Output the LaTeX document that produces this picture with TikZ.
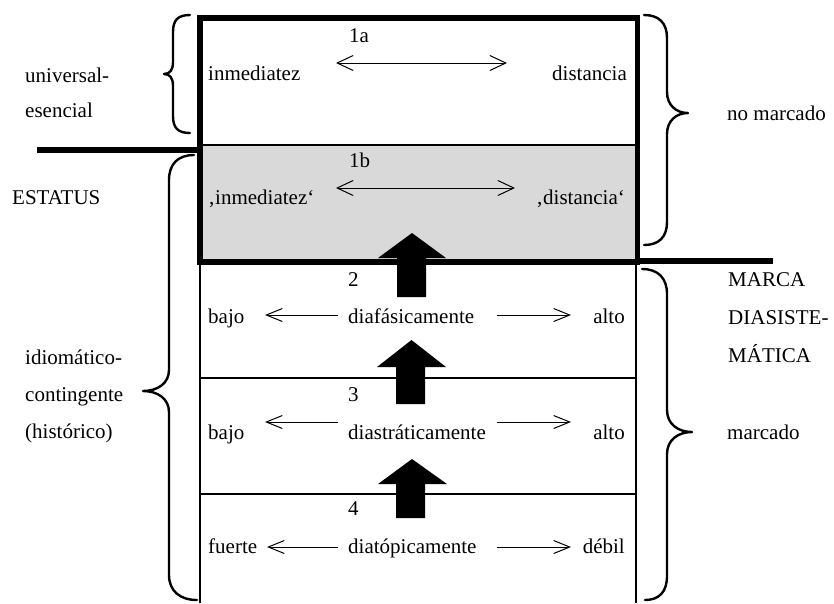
\documentclass[tikz,border=0pt]{standalone}
\usepackage{fontspec}
\setmainfont{Liberation Serif}
\usetikzlibrary{arrows.meta}
\begin{document}
\begin{tikzpicture}[x=1pt,y=-1pt,
  txt/.style={inner sep=0pt, font=\fontsize{21}{25}\selectfont},
  lt/.style={txt, anchor=base west},
  rt/.style={txt, anchor=base east},
  thinarrow/.style={line width=1pt, -{Straight Barb[length=16pt,width=13pt]}},
  botharrow/.style={line width=1pt, {Straight Barb[length=16pt,width=15pt]}-{Straight Barb[length=16pt,width=15pt]}},
  bracestyle/.style={line width=2.4pt, line cap=round, line join=round},
  boldline/.style={line width=6.5pt},
  framebox/.style={line width=5.5pt},
  rowline/.style={line width=1.3pt},
  blockarrow/.style={fill=black, draw=none}
]
\useasboundingbox (0,0) rectangle (834,603);

% gray area
\fill[gray!30] (200,145) rectangle (637.5,262);

% thin lower frame
\draw[rowline] (200,262) -- (200,603);
\draw[rowline] (636,262) -- (636,603);
\draw[rowline] (200,378) -- (636,378);
\draw[rowline] (200,494) -- (636,494);
\draw[line width=1.5pt] (200,145) -- (637.5,145);

% thick frame
\draw[framebox] (200,18) rectangle (637.5,262);

% thick separator lines
\draw[boldline] (37,150) -- (200,150);
\draw[boldline] (640,261) -- (773,261);

% braces
\draw[bracestyle] (190,15) .. controls (178,15) and (173,20) .. (173,32) -- (173,62)
  .. controls (173,70) and (170,74) .. (164,74) .. controls (170,74) and (173,78) .. (173,86)
  -- (173,116) .. controls (173,128) and (178,133) .. (190,133);
\draw[bracestyle] (194,155) .. controls (178,155) and (169,164) .. (169,180) -- (169,370)
  .. controls (169,383) and (158,391) .. (143,391) .. controls (158,391) and (169,399) .. (169,412)
  -- (169,575) .. controls (169,591) and (180,600) .. (197,600);
\draw[bracestyle] (644,15) .. controls (659,15) and (667,23) .. (667,38) -- (667,92)
  .. controls (667,105) and (676,113) .. (688,113) .. controls (676,113) and (667,121) .. (667,134)
  -- (667,222) .. controls (667,237) and (659,245) .. (644,245);
\draw[bracestyle] (642,269) .. controls (658,269) and (667,278) .. (667,294) -- (667,410)
  .. controls (667,424) and (678,432) .. (692,432) .. controls (678,432) and (667,440) .. (667,454)
  -- (667,576) .. controls (667,592) and (659,600) .. (645,600);

% left labels
\node[lt] (univ) at (25,82) {universal-};
\node[lt] (esen) at (25,117) {esencial};
\node[lt] (estatus) at (12,204) {ESTATUS};
\node[lt] (idio) at (25,364) {idiomático-};
\node[lt] (cont) at (25,401) {contingente};
\node[lt] (hist) at (25,438) {(histórico)};

% right labels
\node[lt] (nomarc) at (727,120) {no marcado};
\node[lt] (marca) at (728,286) {MARCA};
\node[lt] (diasis) at (728,324) {DIASISTE-};
\node[lt] (matica) at (728,362) {MÁTICA};
\node[lt] (marcado) at (727,439) {marcado};

% row 1a
\node[lt] (n1a) at (349,42) {1a};
\node[lt] (inm) at (208,80) {inmediatez};
\node[rt] (dist) at (627,80) {distancia};
\coordinate (a1l) at (336,63);
\coordinate (a1r) at (507,63);
\draw[botharrow] (a1l) -- (a1r);

% row 1b
\node[lt] (n1b) at (349,167) {1b};
\node[lt] (inmq) at (208,204) {‚inmediatez‘};
\node[rt] (distq) at (625,204) {‚distancia‘};
\coordinate (b1l) at (336,188);
\coordinate (b1r) at (515,188);
\draw[botharrow] (b1l) -- (b1r);

% row 2
\node[lt] (n2) at (348,286) {2};
\node[lt] (bajo2) at (208,323) {bajo};
\node[lt] (diaf) at (348,323) {diafásicamente};
\node[rt] (alto2) at (625,323) {alto};
\coordinate (r2a) at (338,315);
\coordinate (r2b) at (265,315);
\coordinate (r2c) at (497,315);
\coordinate (r2d) at (571,315);
\draw[thinarrow] (r2a) -- (r2b);
\draw[thinarrow] (r2c) -- (r2d);

% row 3
\node[lt] (n3) at (348,401) {3};
\node[lt] (bajo3) at (208,439) {bajo};
\node[lt] (dias) at (348,439) {diastráticamente};
\node[rt] (alto3) at (625,439) {alto};
\coordinate (r3a) at (338,422);
\coordinate (r3b) at (265,422);
\coordinate (r3c) at (497,422);
\coordinate (r3d) at (571,422);
\draw[thinarrow] (r3a) -- (r3b);
\draw[thinarrow] (r3c) -- (r3d);

% row 4
\node[lt] (n4) at (348,515) {4};
\node[lt] (fuerte) at (208,553) {fuerte};
\node[lt] (diat) at (348,553) {diatópicamente};
\node[rt] (debil) at (625,553) {débil};
\coordinate (r4a) at (338,547);
\coordinate (r4b) at (267,547);
\coordinate (r4c) at (497,547);
\coordinate (r4d) at (571,547);
\draw[thinarrow] (r4a) -- (r4b);
\draw[thinarrow] (r4c) -- (r4d);

% block arrows
\fill[blockarrow] (397,297) -- (397,258) -- (378,258) -- (412,233) -- (446,258) -- (426,258) -- (426,297) -- cycle;
\fill[blockarrow] (396,404) -- (396,367) -- (377,367) -- (411.5,340) -- (446,367) -- (425,367) -- (425,404) -- cycle;
\fill[blockarrow] (396,518) -- (396,484) -- (378,484) -- (412,459) -- (447,484) -- (425,484) -- (425,518) -- cycle;
\end{tikzpicture}
\end{document}
